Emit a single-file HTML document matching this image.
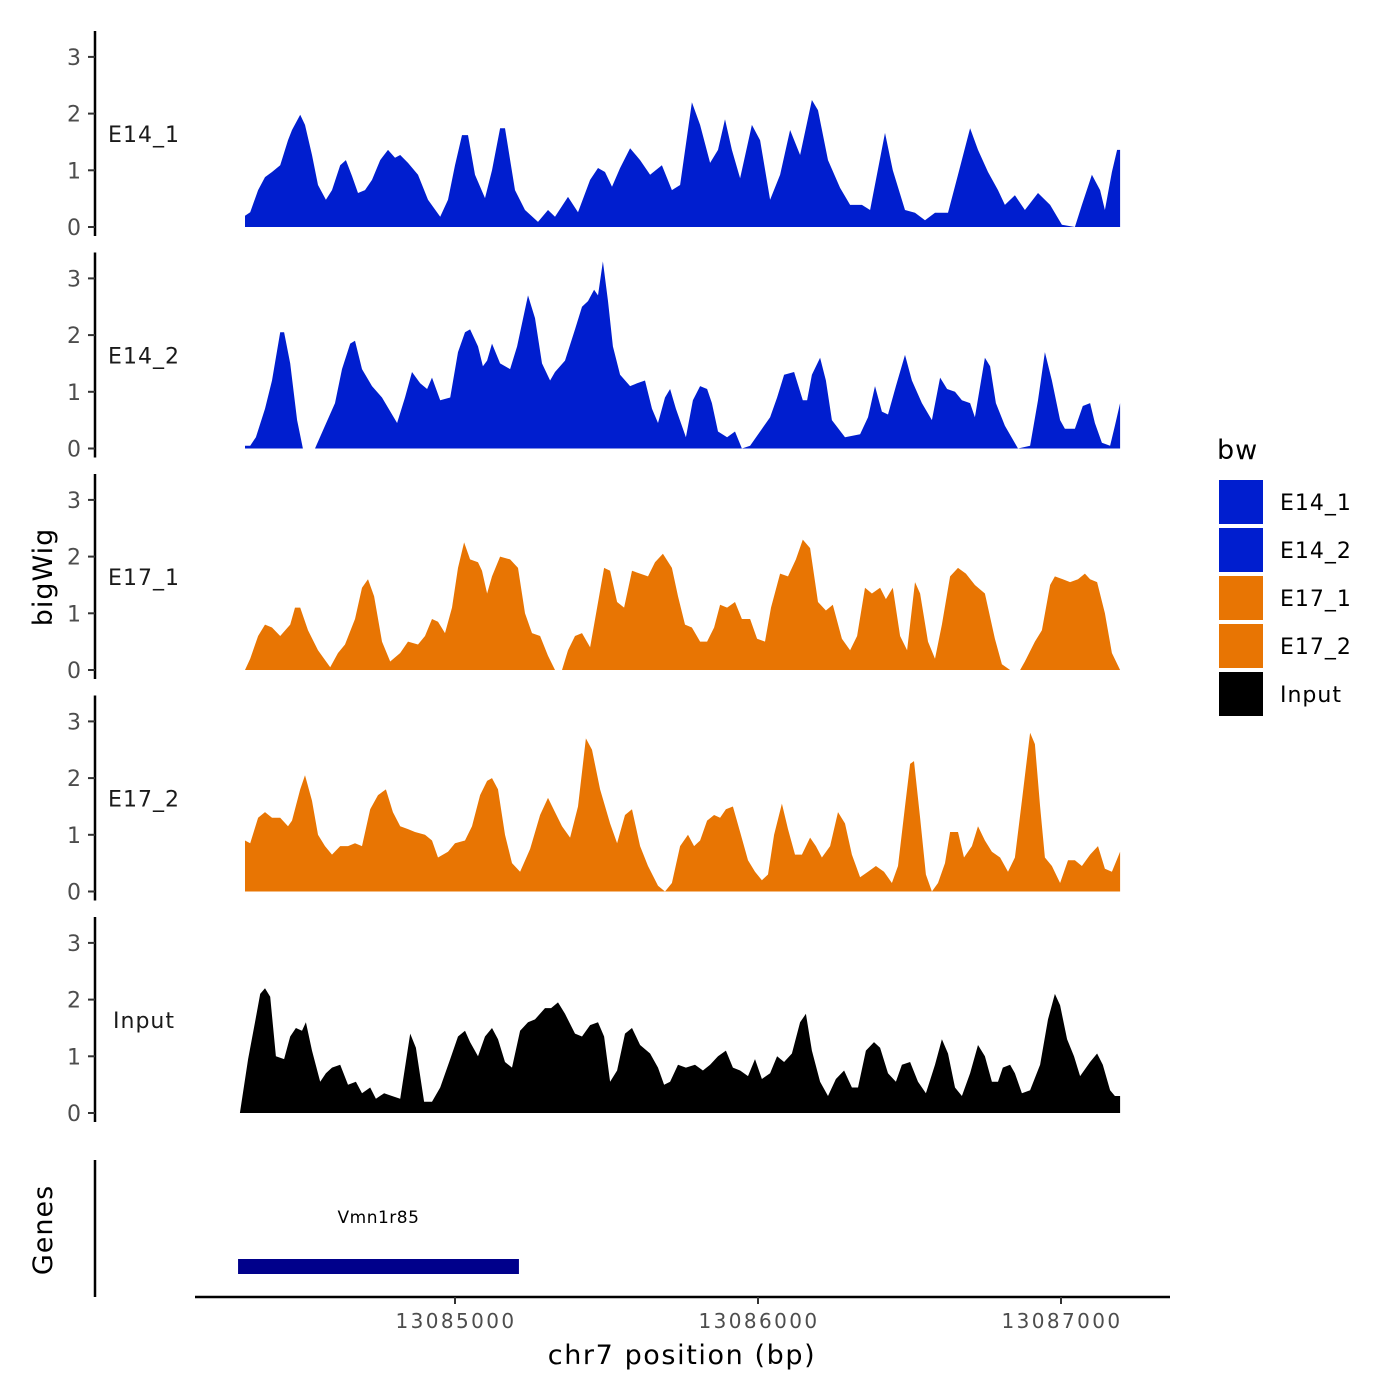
<!DOCTYPE html>
<html><head><meta charset="utf-8"><style>
html,body{margin:0;padding:0;background:#fff;}
svg{display:block;font-family:"DejaVu Sans","Liberation Sans",sans-serif;}
</style></head><body>
<svg id="chart" width="1400" height="1400" viewBox="0 0 1400 1400" xmlns="http://www.w3.org/2000/svg">
<rect width="1400" height="1400" fill="#fff"/>
</svg>
<script>
const trackNames = ["E14_1","E14_2","E17_1","E17_2","Input"];
const trackColors = ["#001ECF","#001ECF","#E87503","#E87503","#000000"];
const yTicks = [0,1,2,3];
const xTicks = [13085000,13086000,13087000];
const basePos = 13084307;
const e14_1_off = [0,17,43,66,89,116,142,155,182,198,221,241,267,287,314,333,353,373,396,419,446,472,495,512,538,571,604,644,670,693,716,736,759,792,815,842,858,891,924,967,1000,1023,1066,1099,1139,1165,1188,1211,1238,1271,1304,1337,1376,1409,1436,1475,1502,1535,1561,1584,1607,1634,1673,1700,1733,1766,1799,1832,1871,1891,1924,1964,1997,2036,2063,2112,2138,2178,2211,2244,2277,2320,2353,2393,2419,2452,2485,2508,2541,2574,2617,2657,2696,2739,2762,2795,2822,2838,2861,2878,2888];
const e14_1_val = [0.2,0.26,0.65,0.88,0.97,1.09,1.53,1.71,1.98,1.8,1.27,0.74,0.48,0.65,1.09,1.18,0.9,0.6,0.65,0.83,1.18,1.36,1.22,1.27,1.13,0.92,0.48,0.18,0.48,1.09,1.62,1.62,0.92,0.51,1.0,1.74,1.74,0.65,0.3,0.09,0.3,0.18,0.53,0.26,0.83,1.04,0.97,0.71,1.04,1.39,1.18,0.92,1.09,0.65,0.74,2.2,1.8,1.13,1.36,1.9,1.36,0.86,1.8,1.53,0.48,0.92,1.71,1.27,2.24,2.06,1.18,0.69,0.39,0.39,0.3,1.66,1.0,0.3,0.25,0.12,0.25,0.25,0.92,1.74,1.36,0.97,0.65,0.39,0.56,0.3,0.6,0.39,0.04,0,0.39,0.92,0.65,0.3,0.97,1.36,1.36];
const e14_2_off = [0,17,36,66,89,116,129,149,172,191,231,264,297,320,347,363,386,419,452,502,528,551,578,601,617,644,677,703,726,743,769,785,799,815,842,875,898,934,957,980,1007,1023,1056,1089,1112,1132,1152,1165,1181,1198,1214,1238,1271,1294,1320,1343,1363,1386,1403,1422,1455,1478,1502,1525,1541,1561,1591,1617,1640,1667,1700,1733,1756,1779,1812,1841,1855,1871,1898,1917,1937,1980,2030,2056,2079,2102,2122,2148,2178,2201,2234,2267,2294,2317,2343,2366,2393,2409,2442,2459,2478,2508,2551,2591,2617,2640,2663,2690,2706,2739,2765,2789,2805,2828,2855,2871,2888];
const e14_2_val = [0.05,0.05,0.2,0.7,1.2,2.05,2.05,1.5,0.5,0,0,0.4,0.8,1.4,1.85,1.9,1.4,1.1,0.9,0.45,0.9,1.35,1.15,1.05,1.25,0.85,0.9,1.7,2.05,2.1,1.8,1.45,1.55,1.85,1.5,1.4,1.8,2.7,2.3,1.5,1.2,1.35,1.55,2.1,2.5,2.6,2.8,2.7,3.3,2.6,1.8,1.3,1.1,1.15,1.2,0.7,0.45,0.9,1.05,0.7,0.2,0.85,1.1,1.05,0.8,0.3,0.2,0.3,0,0.05,0.3,0.55,0.9,1.3,1.35,0.85,0.85,1.3,1.6,1.2,0.5,0.2,0.25,0.55,1.1,0.65,0.6,1.1,1.65,1.2,0.8,0.5,1.25,1.05,1.0,0.85,0.8,0.55,1.6,1.45,0.8,0.4,0,0.05,0.85,1.7,1.2,0.5,0.35,0.35,0.75,0.8,0.45,0.1,0.05,0.4,0.8];
const e17_1_off = [0,17,43,66,89,116,149,165,182,208,241,281,307,330,363,386,406,426,452,479,512,538,571,594,617,637,660,683,703,723,743,769,782,799,815,842,875,901,924,947,974,1000,1023,1046,1066,1089,1112,1139,1162,1185,1205,1228,1251,1277,1304,1330,1353,1379,1409,1429,1452,1475,1502,1525,1548,1568,1591,1617,1640,1667,1690,1716,1736,1766,1792,1818,1841,1865,1891,1917,1940,1970,1997,2020,2046,2069,2096,2115,2138,2162,2185,2211,2228,2254,2277,2300,2327,2353,2379,2409,2442,2475,2498,2525,2558,2574,2607,2630,2657,2673,2699,2723,2749,2772,2789,2812,2838,2861,2888];
const e17_1_val = [0,0.2,0.6,0.8,0.75,0.6,0.8,1.1,1.1,0.7,0.35,0.05,0.3,0.45,0.9,1.45,1.6,1.3,0.5,0.15,0.3,0.5,0.45,0.6,0.9,0.85,0.65,1.1,1.8,2.25,1.95,1.9,1.75,1.35,1.65,2.0,1.95,1.8,1.0,0.65,0.6,0.25,0,0,0.35,0.6,0.65,0.4,1.1,1.8,1.75,1.2,1.1,1.75,1.7,1.65,1.9,2.05,1.8,1.3,0.8,0.75,0.5,0.5,0.75,1.15,1.1,1.2,0.9,0.9,0.55,0.5,1.1,1.7,1.65,1.95,2.3,2.15,1.2,1.05,1.15,0.55,0.35,0.6,1.45,1.35,1.45,1.25,1.45,0.6,0.35,1.55,1.35,0.5,0.2,0.8,1.65,1.8,1.7,1.5,1.35,0.55,0.1,0,0,0.15,0.5,0.7,1.5,1.65,1.6,1.55,1.6,1.7,1.6,1.55,1.0,0.3,0];
const e17_2_off = [0,17,43,66,89,116,142,155,182,198,221,241,264,287,314,340,363,386,413,439,465,488,512,538,561,594,617,637,670,693,726,749,776,799,815,835,858,881,908,941,974,1000,1023,1046,1073,1099,1125,1145,1172,1205,1228,1254,1277,1304,1330,1363,1386,1409,1436,1462,1482,1502,1525,1548,1568,1587,1610,1634,1660,1683,1706,1726,1746,1772,1792,1815,1838,1865,1884,1904,1931,1957,1980,2003,2030,2056,2082,2109,2135,2155,2178,2195,2208,2228,2247,2267,2287,2310,2327,2353,2373,2399,2419,2442,2465,2492,2518,2541,2564,2591,2607,2624,2640,2663,2690,2716,2739,2762,2789,2815,2838,2861,2888];
const e17_2_val = [0.9,0.85,1.3,1.4,1.3,1.3,1.15,1.25,1.8,2.05,1.6,1.0,0.8,0.65,0.8,0.8,0.85,0.8,1.45,1.7,1.8,1.4,1.15,1.1,1.05,1.0,0.9,0.6,0.7,0.85,0.9,1.15,1.7,1.95,2.0,1.8,1.0,0.5,0.35,0.75,1.35,1.65,1.4,1.15,0.95,1.5,2.7,2.5,1.8,1.2,0.85,1.35,1.45,0.8,0.45,0.1,0,0.15,0.8,1.0,0.8,0.9,1.25,1.35,1.3,1.45,1.5,1.05,0.55,0.35,0.2,0.3,1.0,1.55,1.1,0.65,0.65,0.95,0.8,0.6,0.8,1.4,1.2,0.65,0.25,0.35,0.45,0.35,0.15,0.45,1.5,2.25,2.3,1.3,0.3,0,0.15,0.5,1.05,1.05,0.6,0.8,1.15,0.9,0.7,0.6,0.35,0.6,1.6,2.8,2.6,1.5,0.6,0.45,0.15,0.55,0.55,0.45,0.65,0.8,0.4,0.35,0.7];
const input_off = [-17,10,33,50,66,83,102,129,149,168,188,201,221,248,267,287,314,340,366,386,413,432,459,485,512,545,564,591,617,644,677,703,726,743,769,792,815,835,858,881,908,934,957,990,1010,1033,1056,1089,1112,1139,1165,1185,1205,1228,1254,1277,1304,1337,1363,1383,1403,1429,1455,1485,1511,1535,1561,1587,1610,1634,1660,1683,1706,1733,1756,1779,1805,1832,1851,1871,1898,1924,1950,1977,2003,2023,2049,2076,2096,2122,2148,2168,2195,2221,2247,2277,2300,2320,2343,2366,2393,2419,2442,2465,2485,2501,2525,2541,2564,2591,2624,2650,2673,2690,2713,2736,2756,2789,2812,2831,2855,2871,2888];
const input_val = [0,0.95,1.6,2.1,2.2,2.05,1.0,0.95,1.35,1.5,1.45,1.6,1.1,0.55,0.7,0.8,0.85,0.5,0.55,0.35,0.45,0.25,0.35,0.3,0.25,1.4,1.15,0.2,0.2,0.45,0.95,1.35,1.45,1.25,1.0,1.35,1.5,1.3,0.9,0.8,1.45,1.6,1.65,1.85,1.85,1.95,1.75,1.4,1.35,1.55,1.6,1.35,0.55,0.75,1.4,1.5,1.2,1.05,0.8,0.5,0.55,0.85,0.8,0.85,0.75,0.85,1.0,1.1,0.8,0.75,0.65,0.95,0.6,0.7,1.0,0.9,1.05,1.6,1.75,1.1,0.55,0.3,0.6,0.75,0.45,0.45,1.1,1.25,1.15,0.7,0.55,0.85,0.9,0.55,0.35,0.85,1.3,1.05,0.45,0.3,0.7,1.2,1.0,0.55,0.55,0.8,0.85,0.7,0.35,0.4,0.85,1.65,2.1,1.9,1.3,1.0,0.65,0.9,1.05,0.85,0.4,0.3,0.3];
const geneName = "Vmn1r85";
const geneStart = 13084284;
const geneEnd = 13085211;

const offsets = [e14_1_off,e14_2_off,e17_1_off,e17_2_off,input_off];
const values = [e14_1_val,e14_2_val,e17_1_val,e17_2_val,input_val];

const NS = "http://www.w3.org/2000/svg";
const svg = document.getElementById('chart');
function mk(tag, attrs, parent){const e=document.createElementNS(NS,tag);for(const k in attrs)e.setAttribute(k,attrs[k]);(parent||svg).appendChild(e);return e;}
const xScale = bp => 455 + (bp - 13085000) * 0.303;
const panelBase = i => 227 + i * 221.5;
const yScale = (i, v) => panelBase(i) - v * 56.7;

for (let i = 0; i < trackNames.length; i++) {
  const g = mk('g', {});
  
  
  const b = panelBase(i);
  let d = 'M' + xScale(basePos + offsets[i][0]).toFixed(1) + ',' + b;
  for (let j = 0; j < offsets[i].length; j++) d += 'L' + xScale(basePos + offsets[i][j]).toFixed(1) + ',' + yScale(i, values[i][j]).toFixed(1);
  d += 'L' + xScale(basePos + offsets[i][offsets[i].length-1]).toFixed(1) + ',' + b + 'Z';
  const p = mk('path', {d: d, fill: trackColors[i]}, g);
  
  
  const ax = mk('line', {x1: 95, x2: 95, y1: b - 196, y2: b + 9, stroke: '#000', 'stroke-width': 2.5}, g);
  
  
  for (const t of yTicks) {
    const y = yScale(i, t);
    const tk = mk('line', {x1: 88, x2: 95, y1: y, y2: y, stroke: '#333', 'stroke-width': 2}, g);
    
    
    const tl = mk('text', {x: 81, y: y + 8, 'text-anchor': 'end', 'font-size': 22, fill: '#4d4d4d'}, g);
    tl.textContent = t;
    
    
  }
  const lab = mk('text', {x: 144, y: b - 85, 'text-anchor': 'middle', 'font-size': 22, 'letter-spacing': 1, fill: '#1a1a1a'}, g);
  lab.textContent = trackNames[i];
  
  
}

// Genes panel
const ga = mk('line', {x1: 95, x2: 95, y1: 1160, y2: 1297, stroke: '#000', 'stroke-width': 2.5});


const gr = mk('rect', {x: xScale(geneStart), y: 1259, width: xScale(geneEnd) - xScale(geneStart), height: 15, fill: '#00008B'});


const gt = mk('text', {x: (xScale(geneStart) + xScale(geneEnd)) / 2, y: 1223, 'text-anchor': 'middle', 'font-size': 17, 'letter-spacing': 0.5, fill: '#000'});
gt.textContent = geneName;



// x axis
const xa = mk('line', {x1: 195, x2: 1170, y1: 1297, y2: 1297, stroke: '#000', 'stroke-width': 2.5});


for (const t of xTicks) {
  const x = xScale(t);
  const tk = mk('line', {x1: x, x2: x, y1: 1297, y2: 1304, stroke: '#333', 'stroke-width': 2});
  
  
  const tl = mk('text', {x: x + 1, y: 1328, 'text-anchor': 'middle', 'font-size': 20, 'letter-spacing': 2.4, fill: '#4d4d4d'});
  tl.textContent = t;
  
  
}
const xt = mk('text', {x: 682, y: 1364, 'text-anchor': 'middle', 'font-size': 27, 'letter-spacing': 1.6, fill: '#000'});
xt.textContent = 'chr7 position (bp)';


const yt = mk('text', {x: 0, y: 0, 'text-anchor': 'middle', 'font-size': 27, 'letter-spacing': 1, fill: '#000', transform: 'translate(52,577) rotate(-90)'});
yt.textContent = 'bigWig';


const gy = mk('text', {x: 0, y: 0, 'text-anchor': 'middle', 'font-size': 27, 'letter-spacing': 1, fill: '#000', transform: 'translate(52,1230) rotate(-90)'});
gy.textContent = 'Genes';



// legend
const lg = mk('g', {});


const lt = mk('text', {x: 1217, y: 459, 'font-size': 27, 'letter-spacing': 1, fill: '#000'}, lg);
lt.textContent = 'bw';


for (let i = 0; i < trackNames.length; i++) {
  const y = 480 + i * 48;
  const r = mk('rect', {x: 1219, y: y, width: 44, height: 44, fill: trackColors[i]}, lg);
  
  
  const t = mk('text', {x: 1280, y: y + 30, 'font-size': 22, 'letter-spacing': 1, fill: '#000'}, lg);
  t.textContent = trackNames[i];
  
  
}
</script>
</body></html>
